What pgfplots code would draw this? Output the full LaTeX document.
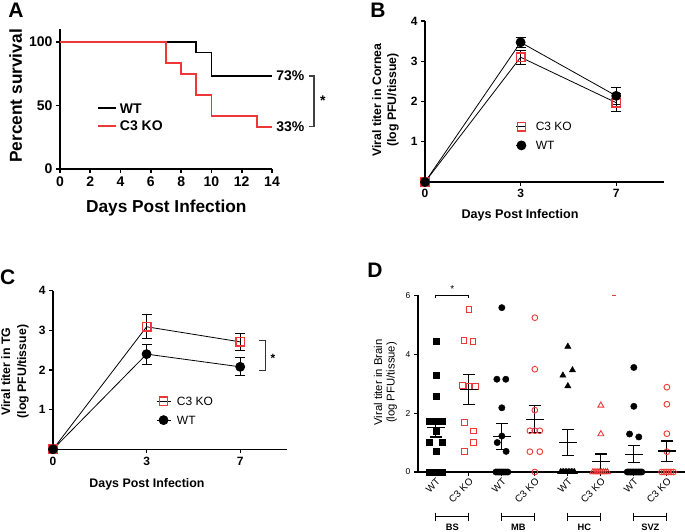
\documentclass[border=0pt]{standalone}
\usepackage{fontspec}
\setmainfont{Liberation Sans}
\usepackage{pgfplots}
\pgfplotsset{compat=1.18}
\definecolor{kored}{RGB}{238,55,55}
\newcommand{\fs}[1]{\fontsize{#1}{#1}\selectfont}
\pgfplotsset{
  gp/.style={anchor=south west, scale only axis, axis lines=left,
    tick align=outside, clip=false, legend cell align=left,
    /pgf/number format/assume math mode=true},
}
\begin{document}
\begin{tikzpicture}
\useasboundingbox (0,0) rectangle (685pt,532pt);

% ---------------- Panel A ----------------
\begin{axis}[gp, at={(60pt,363pt)}, width=212pt, height=139.7pt,
  xmin=0, xmax=14, ymin=0, ymax=110,
  axis line style={-, line width=1.6pt},
  xtick={0,2,...,14}, ytick={0,50,100},
  major tick length=4pt, tick style={line width=1.6pt, black},
  ticklabel style={font=\fs{14}\bfseries},
  legend style={draw=none, fill=none, at={(axis cs:2.44,41)}, anchor=west, inner sep=0pt,
    nodes={inner sep=0pt, text height=10pt, text depth=0pt, font=\fs{14}\bfseries},
    row sep=7.7pt, column sep=3pt},
  legend image code/.code={\draw[#1] (0pt,0pt) -- (18pt,0pt);},
]
\addplot[black, line width=1.8pt, const plot] coordinates {(0,100) (9,91.7) (10,73.3) (14,73.3)};
\addlegendentry{WT}
\addplot[kored, line width=1.8pt, const plot] coordinates {(0,100) (7,83.3) (8,75) (9,58.3) (10,41.7) (13,33.3) (14,33.3)};
\addlegendentry{C3 KO}
\node[anchor=west, inner sep=0pt, font=\fs{14}\bfseries] at (axis cs:14.27,73.3) {73\%};
\node[anchor=west, inner sep=0pt, font=\fs{14}\bfseries] at (axis cs:14.27,33.3) {33\%};
\draw[black!75, line width=1.3pt] (axis cs:16.45,73.3) -- (axis cs:16.78,73.3) -- (axis cs:16.78,33.3) -- (axis cs:16.45,33.3);
\node[font=\fs{14}\bfseries, inner sep=0pt] at (axis cs:17.35,54) {*};
\end{axis}

% ---------------- Panel B ----------------
\begin{axis}[gp, at={(425pt,350pt)}, width=239pt, height=161pt,
  xmin=0, xmax=2.5, ymin=0, ymax=4,
  axis line style={-, line width=1.2pt},
  xtick={0,1,2}, xticklabels={0,3,7}, ytick={1,2,3,4},
  major tick length=4pt, tick style={line width=1.2pt, black},
  ticklabel style={font=\fs{12}\bfseries},
  legend style={draw=none, fill=none, at={(axis cs:0.95,1.14)}, anchor=west, inner sep=0pt,
    nodes={inner sep=0pt, text height=8.6pt, text depth=0pt, font=\fs{12}},
    row sep=10pt, column sep=9pt},
  legend image code/.code={\draw[mark repeat=2,mark phase=2,#1] plot coordinates {(0pt,0pt)(5pt,0pt)(10pt,0pt)};},
]
\addplot[forget plot, draw=none, mark=none, error bars/.cd, y dir=both, y explicit,
  error bar style={draw=black, line width=1pt},
  error mark options={rotate=90, mark size=5pt, draw=black, line width=1pt}]
  coordinates {(1,3.10) +- (0,0.17) (2,1.97) +- (0,0.22) (1,3.47) +- (0,0.13) (2,2.14) +- (0,0.21)};
\addplot[black, line width=0.8pt, mark=square, mark size=4.2pt, mark options={draw=kored, line width=1.4pt, solid}]
  coordinates {(0,0) (1,3.10) (2,1.97)};
\addlegendentry{C3 KO}
\addplot[black, line width=0.8pt, mark=*, mark size=4.5pt, mark options={fill=black, draw=black}]
  coordinates {(0,0) (1,3.47) (2,2.14)};
\addlegendentry{WT}
\end{axis}

% ---------------- Panel C ----------------
\begin{axis}[gp, at={(53pt,82.7pt)}, width=234pt, height=158.6pt,
  xmin=0, xmax=2.5, ymin=0, ymax=4,
  axis line style={-, line width=1.2pt},
  xtick={0,1,2}, xticklabels={0,3,7}, ytick={1,2,3,4},
  major tick length=4pt, tick style={line width=1.2pt, black},
  ticklabel style={font=\fs{12}\bfseries},
  legend style={draw=none, fill=none, at={(axis cs:1.1,0.97)}, anchor=west, inner sep=0pt,
    nodes={inner sep=0pt, text height=8.6pt, text depth=0pt, font=\fs{12}},
    row sep=10pt, column sep=6pt},
  legend image code/.code={\draw[mark repeat=2,mark phase=2,#1] plot coordinates {(0pt,0pt)(7pt,0pt)(14pt,0pt)};},
]
\addplot[forget plot, draw=none, mark=none, error bars/.cd, y dir=both, y explicit,
  error bar style={draw=black, line width=1pt},
  error mark options={rotate=90, mark size=5pt, draw=black, line width=1pt}]
  coordinates {(1,3.09) +- (0,0.30) (2,2.71) +- (0,0.21) (1,2.40) +- (0,0.25) (2,2.08) +- (0,0.23)};
\addplot[black, line width=0.8pt, mark=square, mark size=4.2pt, mark options={draw=kored, line width=1.4pt, solid}]
  coordinates {(0,0) (1,3.09) (2,2.71)};
\addlegendentry{C3 KO}
\addplot[black, line width=0.8pt, mark=*, mark size=4.5pt, mark options={fill=black, draw=black}]
  coordinates {(0,0) (1,2.40) (2,2.08)};
\addlegendentry{WT}
\draw[black!80, line width=1pt] (axis cs:2.2,2.74) -- (axis cs:2.27,2.74) -- (axis cs:2.27,1.98) -- (axis cs:2.2,1.98);
\node[font=\fs{12}\bfseries, inner sep=0pt] at (axis cs:2.35,2.3) {*};
\end{axis}

% ---------------- Panel D ----------------
\begin{axis}[gp, at={(418pt,60pt)}, width=267pt, height=176.7pt,
  xmin=-0.54, xmax=7.55, ymin=0, ymax=6,
  axis line style={-, line width=1.1pt},
  xtick={0,...,7}, xticklabels={WT,C3 KO,WT,C3 KO,WT,C3 KO,WT,C3 KO},
  x tick label style={rotate=45, anchor=north east, font=\fs{9.8}, inner sep=1pt},
  ytick={0,2,4,6}, y tick label style={font=\fs{8.5}},
  major tick length=4pt, tick style={line width=1.1pt, black},
]
% BS
\addplot[only marks, mark=square*, mark size=3pt, black] coordinates {
 (0,4.45) (0,3.28) (0,2.59) (-0.2,1.74) (0,1.74) (0.18,1.74) (0,1.39) (-0.2,1.0) (0.18,1.0) (0,0.69)
 (-0.2,0) (0,0) (0.19,0)};
\addplot[only marks, mark=square, mark size=2.8pt, kored, mark options={line width=0.9pt}] coordinates {
 (1,5.51) (0.85,4.47) (1.13,4.44) (0.8,2.94) (1,2.9) (1.2,2.9) (0.86,1.69) (1.14,1.39) (1.14,1.0) (0.86,0.69)};
% MB
\addplot[only marks, mark=*, mark size=3.2pt, black] coordinates {
 (2,5.58) (1.85,3.15) (2.12,3.15) (2,2.18) (2,1.22) (1.86,1.0) (2.13,0.7)
 (1.82,0) (1.88,0) (1.94,0) (2,0) (2.06,0) (2.12,0) (2.18,0)};
\addplot[only marks, mark=o, mark size=2.9pt, kored, mark options={line width=0.9pt}] coordinates {
 (3,5.24) (3,3.49) (3,2.1) (2.85,1.4) (3,1.4) (3.15,1.4) (2.85,0.69) (3.15,0.69) (3,0)};
% HC
\addplot[only marks, mark=triangle*, mark size=3.6pt, black] coordinates {
 (4,4.26) (4.14,3.46) (3.85,3.28) (4,2.92)
 (3.78,0) (3.827,0) (3.873,0) (3.92,0) (3.967,0) (4.013,0) (4.06,0) (4.107,0) (4.153,0) (4.2,0)};
\addplot[only marks, mark=triangle, mark size=3.4pt, kored, mark options={line width=0.9pt}] coordinates {
 (5,2.26) (5,1.29)
 (4.76,0) (4.823,0) (4.886,0) (4.949,0) (5.011,0) (5.074,0) (5.137,0) (5.2,0)};
\addplot[only marks, mark=-, mark size=1.6pt, kored, mark options={line width=0.9pt}] coordinates {(5.4,6.0)};
% SVZ
\addplot[only marks, mark=*, mark size=3.2pt, black] coordinates {
 (6,3.55) (6,2.23) (5.87,1.29) (6.15,1.19)
 (5.8,0) (5.849,0) (5.898,0) (5.947,0) (5.996,0) (6.044,0) (6.093,0) (6.142,0) (6.191,0) (6.24,0)};
\addplot[only marks, mark=o, mark size=2.9pt, kored, mark options={line width=0.9pt}] coordinates {
 (7,2.88) (7,2.3) (7,1.3) (7,0.69)
 (6.84,0) (6.912,0) (6.984,0) (7.056,0) (7.128,0) (7.2,0)};
% mean +- SEM
\addplot[only marks, mark=-, mark size=9.3pt, black, mark options={line width=1.2pt},
  error bars/.cd, y dir=both, y explicit,
  error bar style={draw=black, line width=1.2pt},
  error mark options={rotate=90, mark size=5.8pt, draw=black, line width=1.2pt}]
  coordinates {(0,1.5) +- (0,0.31) (1,2.8) +- (0,0.52) (2,1.21) +- (0,0.45) (3,1.79) +- (0,0.46)
   (4,1.0) +- (0,0.45) (5,0.35) +- (0,0.26) (6,0.6) +- (0,0.29) (7,0.71) +- (0,0.34)};
% significance
\draw[black, line width=0.8pt] (axis cs:0,5.9) -- (axis cs:0,6.0) -- (axis cs:1,6.0) -- (axis cs:1,5.9);
\node[font=\fs{10}, inner sep=0pt] at (axis cs:0.5,6.2) {*};
% group brackets
\draw[black, line width=1pt] (axis cs:0,-1.52) -- (axis cs:1,-1.52);
\draw[black, line width=1pt] (axis cs:0,-1.38) -- (axis cs:0,-1.66);
\draw[black, line width=1pt] (axis cs:1,-1.38) -- (axis cs:1,-1.66);
\node[font=\fs{9.3}\bfseries, inner sep=0pt] at (axis cs:0.5,-1.88) {BS};
\draw[black, line width=1pt] (axis cs:2,-1.52) -- (axis cs:3,-1.52);
\draw[black, line width=1pt] (axis cs:2,-1.38) -- (axis cs:2,-1.66);
\draw[black, line width=1pt] (axis cs:3,-1.38) -- (axis cs:3,-1.66);
\node[font=\fs{9.3}\bfseries, inner sep=0pt] at (axis cs:2.5,-1.88) {MB};
\draw[black, line width=1pt] (axis cs:4,-1.52) -- (axis cs:5,-1.52);
\draw[black, line width=1pt] (axis cs:4,-1.38) -- (axis cs:4,-1.66);
\draw[black, line width=1pt] (axis cs:5,-1.38) -- (axis cs:5,-1.66);
\node[font=\fs{9.3}\bfseries, inner sep=0pt] at (axis cs:4.5,-1.88) {HC};
\draw[black, line width=1pt] (axis cs:6,-1.52) -- (axis cs:7,-1.52);
\draw[black, line width=1pt] (axis cs:6,-1.38) -- (axis cs:6,-1.66);
\draw[black, line width=1pt] (axis cs:7,-1.38) -- (axis cs:7,-1.66);
\node[font=\fs{9.3}\bfseries, inner sep=0pt] at (axis cs:6.5,-1.88) {SVZ};
\end{axis}

% ---------------- labels ----------------
\node[font=\fs{21}\bfseries, inner sep=0pt] at (16pt,522pt) {A};
\node[font=\fs{21}\bfseries, inner sep=0pt] at (378pt,522pt) {B};
\node[font=\fs{21}\bfseries, inner sep=0pt] at (7.6pt,255pt) {C};
\node[font=\fs{21}\bfseries, inner sep=0pt] at (375pt,262pt) {D};

\node[font=\fs{17.3}\bfseries, inner sep=0pt, rotate=90] at (15.7pt,436pt) {Percent survival};
\node[font=\fs{17.3}\bfseries, inner sep=0pt] at (166.3pt,323.5pt) {Days Post Infection};

\node[font=\fontsize{12.3}{15}\selectfont\bfseries, inner sep=0pt, rotate=90, align=center] at (385.5pt,432pt) {Viral titer in Cornea\\(log PFU/tissue)};
\node[font=\fs{12.6}\bfseries, inner sep=0pt] at (520pt,316.3pt) {Days Post Infection};

\node[font=\fontsize{12.3}{16}\selectfont\bfseries, inner sep=0pt, rotate=90, align=center] at (15pt,160.3pt) {Viral titer in TG\\(log PFU/tissue)};
\node[font=\fs{12.4}\bfseries, inner sep=0pt] at (147pt,47.7pt) {Days Post Infection};

\node[font=\fontsize{11.3}{12.4}\selectfont, inner sep=0pt, rotate=90, align=center] at (385.5pt,149.5pt) {Viral titer in Brain\\(log PFU/tissue)};
\end{tikzpicture}
\end{document}
